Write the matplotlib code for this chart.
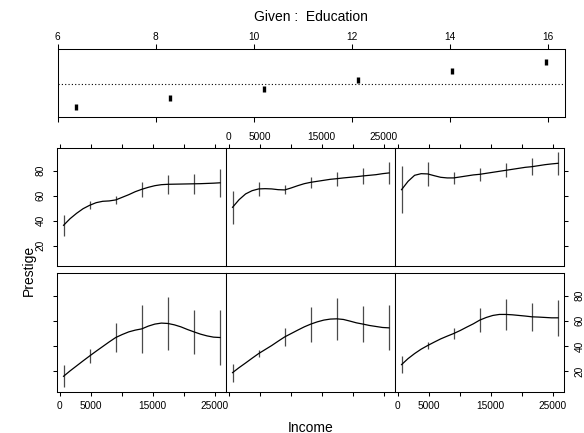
import matplotlib
matplotlib.use('Agg')
import matplotlib.pyplot as plt

plt.rcParams['font.family'] = ['Liberation Sans', 'DejaVu Sans']

# ---------------- data ----------------
education_given = [6.38, 8.30, 10.22, 12.13, 14.05, 15.97]

income_grid = [611, 1664, 2717, 3769, 4822, 5875, 6928, 7981, 9034, 10087,
               11140, 12192, 13245, 14298, 15351, 16404, 17456, 18509, 19562,
               20615, 21668, 22720, 23773, 24826, 25879]

# smooth prestige curve read at income_grid, one list per Education level
curve_L1 = [15.8, 20.1, 24.1, 28.1, 32.0, 35.8, 39.5, 43.2, 46.7, 49.1, 51.2, 52.6, 53.6,
            55.8, 57.4, 58.2, 57.9, 56.8, 55.2, 53.1, 51.2, 49.4, 48.0, 47.0, 46.7]
curve_L2 = [18.7, 22.7, 26.4, 30.2, 33.9, 37.1, 40.3, 43.8, 47.2, 49.9, 52.6, 55.2, 57.4,
            59.2, 60.6, 61.4, 61.6, 61.1, 59.8, 58.4, 57.4, 56.3, 55.5, 54.7, 54.4]
curve_L3 = [25.1, 29.9, 33.9, 37.4, 40.3, 43.0, 45.6, 47.8, 49.9, 52.3, 55.0, 57.6, 60.6,
            62.7, 64.3, 65.1, 65.1, 64.8, 64.3, 63.8, 63.2, 63.0, 62.7, 62.4, 62.4]
curve_L4 = [36.3, 41.6, 45.9, 49.6, 52.3, 54.4, 55.5, 55.8, 56.6, 58.7, 60.8, 63.2, 65.1,
            66.7, 68.0, 68.8, 69.1, 69.2, 69.3, 69.4, 69.5, 69.6, 69.8, 70.0, 70.3]
curve_L5 = [50.7, 56.8, 61.4, 64.0, 65.4, 65.6, 65.4, 64.8, 64.6, 66.2, 68.0, 69.6, 70.7,
            71.5, 72.3, 73.1, 73.6, 74.2, 74.7, 75.2, 75.8, 76.3, 76.8, 77.6, 78.2]
curve_L6 = [64.8, 71.5, 76.3, 77.6, 77.4, 76.0, 74.7, 74.2, 74.2, 75.0, 75.8, 76.6, 77.1,
            77.9, 78.7, 79.5, 80.3, 81.1, 81.9, 82.7, 83.2, 84.0, 84.8, 85.4, 85.9]

# error-bar half widths at the 7 bar incomes (every fourth grid point)
half_L1 = [8.9, 5.3, 11.9, 19.1, 21.0, 17.7, 21.7]
half_L2 = [7.1, 2.7, 7.1, 14.0, 17.0, 14.1, 18.0]
half_L3 = [6.9, 3.0, 4.4, 9.4, 12.1, 11.2, 14.4]
half_L4 = [8.4, 3.3, 3.3, 6.0, 7.7, 8.0, 11.0]
half_L5 = [13.3, 5.35, 3.6, 4.3, 5.7, 6.3, 9.1]
half_L6 = [18.7, 9.4, 4.9, 5.0, 5.6, 6.7, 9.0]

income_ticks = [0, 5000, 10000, 15000, 20000, 25000]
income_ticklabels = ['0', '5000', '', '15000', '', '25000']
prestige_ticks = [20, 40, 60, 80]
edu_ticks = [6, 8, 10, 12, 14, 16]

curves = [curve_L1, curve_L2, curve_L3, curve_L4, curve_L5, curve_L6]
halves = [half_L1, half_L2, half_L3, half_L4, half_L5, half_L6]

# ---------------- layout ----------------
W, H = 584, 433
fig = plt.figure(figsize=(W / 100, H / 100), dpi=100)

def px_axes(x0, y0, x1, y1):
    return fig.add_axes([x0 / W, 1 - y1 / H, (x1 - x0) / W, (y1 - y0) / H])

FS = 7.3
LW = 0.75
TL = 2.9  # tick length (pt)

# given panel
gax = px_axes(57.5, 49.3, 565, 117.3)
gax.set_xlim(6.0, 16.35)
gax.set_ylim(-0.11, 7.44)
gax.axhline(3.6, color='black', lw=0.8, ls=(0, (1, 2)))
lv = list(range(1, len(education_given) + 1))
gax.vlines(education_given, [v - 0.32 for v in lv], [v + 0.32 for v in lv],
           color='black', lw=2.4)
gax.set_xticks(edu_ticks)
gax.set_yticks([])
gax.tick_params(axis='x', which='both', top=True, bottom=True, labeltop=True,
                labelbottom=False, direction='out', length=3.3, width=LW,
                labelsize=FS, pad=1.6)
for s in gax.spines.values():
    s.set_linewidth(LW)

# coplot panels
cols = [(57.3, 226.3), (226.3, 395.3), (395.3, 564.3)]
rows = [(148.3, 266.3), (273.3, 391.7)]
bar_income = income_grid[::4]

for lvl in range(6):
    r = 1 if lvl < 3 else 0
    c = lvl % 3
    ax = px_axes(cols[c][0], rows[r][0], cols[c][1], rows[r][1])
    ax.set_xlim(-400, 26890)
    ax.set_ylim(3.5, 97.9)
    cv = curves[lvl]
    centers = cv[::4]
    hw = halves[lvl]
    ax.vlines(bar_income, [m - h for m, h in zip(centers, hw)],
              [m + h for m, h in zip(centers, hw)], color='#4a4a4a', lw=0.9)
    ax.plot(income_grid, cv, color='black', lw=0.9)
    for s in ax.spines.values():
        s.set_linewidth(LW)
    ax.set_xticks(income_ticks)
    ax.set_xticklabels(income_ticklabels)
    ax.set_yticks(prestige_ticks)
    ax.set_yticklabels([str(t) for t in prestige_ticks], rotation=90, va='center')
    ax.tick_params(direction='out', length=TL, width=LW, labelsize=FS)
    # x axis
    if r == 0:
        ax.tick_params(axis='x', top=True, bottom=False, labelbottom=False,
                       labeltop=(c == 1), pad=1.5)
    else:
        ax.tick_params(axis='x', top=False, bottom=True, labeltop=False,
                       labelbottom=(c != 1), pad=3.7)
    # y axis
    if c == 0:
        ax.tick_params(axis='y', left=True, right=False, labelleft=(r == 0),
                       labelright=False, pad=5.5)
    elif c == 2:
        ax.tick_params(axis='y', left=False, right=True, labelleft=False,
                       labelright=(r == 1), pad=4.7)
    else:
        ax.tick_params(axis='y', left=False, right=False, labelleft=False,
                       labelright=False)

fig.text(311.25 / W, 1 - 21 / H, 'Given :  Education', ha='center', va='baseline', fontsize=10)
fig.text(310.8 / W, 1 - 431.5 / H, 'Income', ha='center', va='baseline', fontsize=10)
fig.text(29 / W, 1 - 270 / H, 'Prestige', ha='center', va='center', rotation=90, fontsize=10)

fig.savefig('out.png', dpi=100)
